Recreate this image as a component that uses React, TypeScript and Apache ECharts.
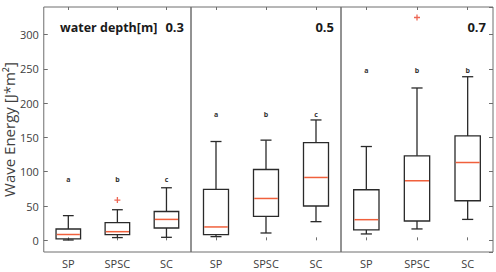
import React, { useEffect, useRef } from "react";
import * as echarts from "echarts";

const categories = ["SP", "SPSC", "SC"];
const depthLabels = ["0.3", "0.5", "0.7"];
const titleText = "water depth[m]";
const yTitle = "Wave Energy [J*m²]";

// box data: [min, Q1, median, Q3, max]
const box03 = [
  [0.5, 2, 8.5, 16.5, 36],
  [4, 8.3, 12.6, 25.7, 44.6],
  [4.4, 18, 30.5, 42, 76.6],
];
const box05 = [
  [5.4, 8.3, 19.5, 74.2, 144],
  [10.7, 34.9, 61, 103.2, 146],
  [27.2, 50, 91.6, 142.4, 175.4],
];
const box07 = [
  [9.3, 15.1, 30.1, 73.7, 136.7],
  [16.6, 28.2, 86.8, 123.1, 222],
  [30.5, 57.7, 113.4, 152.2, 238.4],
];
// outliers: [categoryIndex, value]
const outliers03 = [[1, 58.7]];
const outliers05: number[][] = [];
const outliers07 = [[1, 324.7]];
// significance letters
const letters03 = ["a", "b", "c"];
const letters05 = ["a", "b", "c"];
const letters07 = ["a", "b", "b"];
const letterLevels = [88, 184, 247];

const yMin = -17;
const yMax = 340;

const boxes = [box03, box05, box07];
const outliers = [outliers03, outliers05, outliers07];
const letters = [letters03, letters05, letters07];

export default function App() {
  const ref = useRef<HTMLDivElement>(null);
  useEffect(() => {
    if (!ref.current) return;
    const chart = echarts.init(ref.current, null, { renderer: "svg" });
    const panelLefts = [39, 191, 341];
    const panelWidths = [152, 150, 152];
    const frame = "#6e6e6e";
    const labelColor = "#404040";
    const font = "Open Sans";

    const grids = panelLefts.map((l, i) => ({
      left: l,
      width: panelWidths[i],
      top: 7,
      height: 245,
      show: true,
      borderColor: frame,
      borderWidth: 1,
      backgroundColor: "transparent",
    }));

    const xAxes: any[] = [];
    const yAxes: any[] = [];
    for (let i = 0; i < 3; i++) {
      xAxes.push({
        type: "category",
        gridIndex: i,
        data: categories,
        position: "bottom",
        axisLine: { show: false },
        axisTick: { show: true, inside: true, length: 3, alignWithLabel: true, lineStyle: { color: frame } },
        axisLabel: { color: labelColor, fontSize: 11, fontFamily: font, margin: 6 },
      });
    }
    for (let i = 0; i < 3; i++) {
      xAxes.push({
        type: "category",
        gridIndex: i,
        data: categories,
        position: "top",
        axisLine: { show: false },
        axisTick: { show: true, inside: true, length: 3, alignWithLabel: true, lineStyle: { color: frame } },
        axisLabel: { show: false },
      });
    }
    for (let i = 0; i < 3; i++) {
      yAxes.push({
        type: "value",
        gridIndex: i,
        min: yMin,
        max: yMax,
        splitNumber: 7,
        position: i === 2 ? "right" : "left",
        splitLine: { show: false },
        axisLine: { show: false },
        axisTick: { show: i !== 1, inside: true, length: 4, lineStyle: { color: frame } },
        axisLabel: {
          show: i === 0,
          color: labelColor,
          fontSize: 11,
          fontFamily: font,
          margin: 5,
          showMinLabel: false,
          showMaxLabel: false,
          formatter: (v: number) => (v % 50 === 0 ? String(v) : ""),
        },
        name: i === 0 ? yTitle : "",
        nameLocation: "middle",
        nameGap: 22,
        nameTextStyle: { color: labelColor, fontSize: 15, fontFamily: font },
      });
    }

    const series: any[] = [];
    for (let i = 0; i < 3; i++) {
      const data = boxes[i].map((b, k) => [k, ...b]);
      series.push({
        type: "custom",
        xAxisIndex: i,
        yAxisIndex: i,
        encode: { x: 0, y: [1, 2, 3, 4, 5] },
        data,
        renderItem: (params: any, api: any) => {
          const idx = api.value(0);
          const band = api.size([1, 0])[0];
          const boxW = band * 0.5;
          const capW = band * 0.22;
          const pMin = api.coord([idx, api.value(1)]);
          const pQ1 = api.coord([idx, api.value(2)]);
          const pMed = api.coord([idx, api.value(3)]);
          const pQ3 = api.coord([idx, api.value(4)]);
          const pMax = api.coord([idx, api.value(5)]);
          const cx = pMin[0];
          const st = { stroke: "#2a2a2a", lineWidth: 1.3, fill: "none" };
          return {
            type: "group",
            children: [
              { type: "line", shape: { x1: cx, y1: pQ3[1], x2: cx, y2: pMax[1] }, style: st },
              { type: "line", shape: { x1: cx, y1: pQ1[1], x2: cx, y2: pMin[1] }, style: st },
              { type: "line", shape: { x1: cx - capW / 2, y1: pMax[1], x2: cx + capW / 2, y2: pMax[1] }, style: st },
              { type: "line", shape: { x1: cx - capW / 2, y1: pMin[1], x2: cx + capW / 2, y2: pMin[1] }, style: st },
              {
                type: "rect",
                shape: { x: cx - boxW / 2, y: pQ3[1], width: boxW, height: pQ1[1] - pQ3[1] },
                style: st,
              },
              {
                type: "line",
                shape: { x1: cx - boxW / 2 + 0.7, y1: pMed[1], x2: cx + boxW / 2 - 0.7, y2: pMed[1] },
                style: { stroke: "#f0603c", lineWidth: 1.5 },
              },
            ],
          };
        },
      });
      series.push({
        type: "scatter",
        xAxisIndex: i,
        yAxisIndex: i,
        data: outliers[i],
        symbol: "path://M5,0L5,10M0,5L10,5",
        symbolSize: 6,
        itemStyle: { color: "transparent", borderColor: "#e8412a", borderWidth: 1.3 },
      });
      series.push({
        type: "custom",
        xAxisIndex: i,
        yAxisIndex: i,
        data: letters[i].map((t, k) => [k, letterLevels[i], t]),
        encode: { x: 0, y: 1 },
        itemStyle: { color: "#333333" },
        renderItem: (params: any, api: any) => {
          const idx = params.dataIndex;
          const p = api.coord([api.value(0), api.value(1)]);
          return {
            type: "text",
            x: p[0],
            y: p[1],
            style: {
              text: letters[i][idx],
              fontSize: 7,
              fontWeight: "bold",
              fontFamily: font,
              fill: "#333333",
              align: "center",
              verticalAlign: "middle",
            },
          };
        },
      });
    }

    const rights = [184, 334, 486];
    const graphic: any[] = [
      {
        type: "text",
        x: 60,
        y: 27,
        style: {
          text: titleText,
          fontSize: 12.5,
          fontWeight: "bold",
          fontFamily: font,
          fill: "#1a1a1a",
          align: "left",
          verticalAlign: "middle",
        },
      },
      ...depthLabels.map((d, i) => ({
        type: "text",
        x: rights[i],
        y: 27,
        style: {
          text: d,
          fontSize: 13,
          fontWeight: "bold",
          fontFamily: font,
          fill: "#1a1a1a",
          align: "right",
          verticalAlign: "middle",
        },
      })),
    ];

    chart.setOption({
      animation: false,
      backgroundColor: "#ffffff",
      grid: grids,
      xAxis: xAxes,
      yAxis: yAxes,
      series,
      graphic,
    });
    return () => chart.dispose();
  }, []);
  return (
    <div
      ref={ref}
      style={{ position: "fixed", left: 0, top: 0, width: 496, height: 272, background: "#fff" }}
    />
  );
}
